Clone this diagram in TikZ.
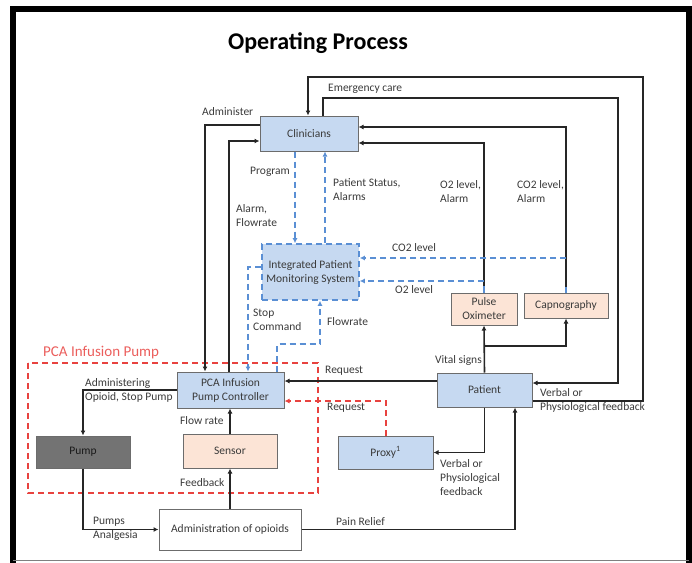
\documentclass[tikz,border=0pt]{standalone}
\usepackage{fontspec}
\setmainfont{Carlito}
\usepackage{tikz}
\usetikzlibrary{arrows.meta}
\definecolor{cblue}{HTML}{C6D9F1}
\definecolor{cpeach}{HTML}{FCE4D6}
\definecolor{cpump}{HTML}{737373}
\definecolor{dblue}{HTML}{5A8FD4}
\definecolor{dred}{HTML}{E8423F}
\definecolor{ink}{HTML}{262626}
\definecolor{txt}{HTML}{3A3A3A}
\newcommand{\lblfont}{\fontsize{11.5}{14}\selectfont}
\tikzstyle{block} = [rectangle, draw=gray!85!black, line width=1pt, align=center, inner sep=0pt, text=txt]
\tikzstyle{lbl} = [align=left, inner sep=0pt, text=txt]
\tikzstyle{arrow} = [draw=ink, line width=1.6pt, -{Latex[length=5pt,width=5pt]}]
\tikzstyle{bluearrow} = [draw=dblue, line width=1.6pt, dash pattern=on 6pt off 4pt, -{Latex[length=5pt,width=5pt]}]
\tikzstyle{redarrow} = [draw=dred, line width=1.6pt, dash pattern=on 6pt off 4pt, -{Latex[length=5pt,width=5pt]}]
\begin{document}
\begin{tikzpicture}[x=1pt, y=-1pt, every node/.style={font=\lblfont}]
\useasboundingbox (0,0) rectangle (692,562);
%% frame
\draw[line width=6pt] (13,563) -- (13,8.5) -- (689,8.5) -- (689,563);
\draw[gray, line width=1pt] (13,560.5) -- (689,560.5);
\node[font=\fontsize{24}{28}\bfseries\selectfont] at (318,43) (title) {Operating Process};

%% pca infusion pump
\draw[dred, line width=1.6pt, dash pattern=on 6pt off 4pt] (28,363) rectangle (318,493);
\node[lbl, anchor=west, text=dred!85!white, font=\fontsize{15}{18}\selectfont] at (43,353) (pcalabel) {PCA Infusion Pump};

%% boxes
\node[block, fill=cblue, minimum width=98, minimum height=35] at (309,133.5) (clinicians) {Clinicians};
\node[block, fill=cblue, draw=dblue, line width=1.6pt, dash pattern=on 6pt off 4pt, minimum width=97, minimum height=56] at (310.5,272) (ipms) {Integrated Patient\\Monitoring System};
\node[block, fill=cpeach, minimum width=66, minimum height=32] at (484,309) (pulse) {Pulse\\Oximeter};
\node[block, fill=cpeach, minimum width=84, minimum height=25] at (566,305.5) (capno) {Capnography};
\node[block, fill=cblue, minimum width=95, minimum height=34] at (484.5,390) (patient) {Patient};
\node[block, fill=cblue, minimum width=107, minimum height=36] at (230.5,390) (controller) {PCA Infusion\\Pump Controller};
\node[block, fill=cblue, minimum width=95, minimum height=33] at (385.5,452.5) (proxy) {Proxy\textsuperscript{1}};
\node[block, fill=cpump, text=black!90, minimum width=94, minimum height=32] at (83,452) (pump) {Pump};
\node[block, fill=cpeach, minimum width=94, minimum height=34] at (230,451) (sensor) {Sensor};
\node[block, fill=white, minimum width=142, minimum height=41] at (230,529.5) (admin) {Administration of opioids};

%% clinicians loops
\path [arrow] (clinicians.west |- 0,125) -| (controller.north -| 205,0);
\node[lbl, anchor=west] at (202,112) (administer) {Administer};
\path [arrow] (controller.north -| 229,0) |- (clinicians.west |- 0,141);
\node[lbl, anchor=west] at (236,215.5) (alarmflow) {Alarm,\\Flowrate};
\path [arrow] (clinicians.north -| 323,0) |- (618,98) |- (patient.east |- 0,383);
\node[lbl, anchor=west] at (328,89) (emergency) {Emergency care};
\path [arrow] (patient.east |- 0,401) -| (643,77) -| (clinicians.north -| 308,0);
\node[lbl, anchor=west] at (540,400) (verbal) {Verbal or\\Physiological feedback};
\path [arrow] (capno.north) |- (clinicians.east |- 0,127);
\node[lbl, anchor=west] at (517,191.5) (co2alarm) {CO2 level,\\Alarm};
\path [arrow] (pulse.north) |- (clinicians.east |- 0,143);
\node[lbl, anchor=west] at (440,191.5) (o2alarm) {O2 level,\\Alarm};
\draw[dblue, line width=1.2pt] (capno.north) -- ++(0,-6) (pulse.north) -- ++(0,-7);

%% monitoring system
\path [bluearrow] (clinicians.south -| 295,0) -- (ipms.north -| 295,0);
\node[lbl, anchor=west] at (250,172) (program) {Program};
\path [bluearrow] (ipms.north -| 325,0) -- (clinicians.south -| 325,0);
\node[lbl, anchor=west] at (333,190) (status) {Patient Status,\\Alarms};
\path [bluearrow] (capno.north |- 0,258) -- (ipms.east |- 0,258);
\node[lbl, anchor=west] at (392,248) (co2) {CO2 level};
\path [bluearrow] (pulse.north |- 0,281) -- (ipms.east |- 0,281);
\node[lbl, anchor=west] at (395,290) (o2) {O2 level};
\path [bluearrow] (ipms.west |- 0,267) -| (controller.north -| 248,0);
\node[lbl, anchor=west] at (253,320) (stop) {Stop\\Command};
\path [bluearrow] (controller.north -| 277,0) |- (320,344) -- (ipms.south -| 320,0);
\node[lbl, anchor=west] at (327,322) (flowrate) {Flowrate};

%% patient
\path [arrow] (patient.north) -- (pulse.south);
\path [arrow] (patient.north |- 0,346) -| (capno.south);
\node[lbl, anchor=east] at (482,360) (vital) {Vital signs};
\path [arrow] (patient.west |- 0,381) -- (controller.east |- 0,381);
\node[lbl, anchor=west] at (325,371) (request) {Request};
\path [redarrow] (proxy.north -| 386,0) |- (controller.east |- 0,401);
\node[lbl, anchor=west] at (327,408) (proxyrequest) {Request};
\path [arrow] (patient.south) |- (proxy.east);
\node[lbl, anchor=west] at (440,478) (proxyverbal) {Verbal or\\Physiological\\feedback};

%% pump loop
\path [arrow] (controller.west) -| (pump.north);
\node[lbl, anchor=west] at (85,390.5) (administering) {Administering\\Opioid, Stop Pump};
\path [arrow] (sensor.north) -- (sensor.north |- controller.south);
\node[lbl, anchor=west] at (180,421) (flow) {Flow rate};
\path [arrow] (admin.north) -- (sensor.south);
\node[lbl, anchor=west] at (180,483) (feedback) {Feedback};
\path [arrow] (pump.south) |- (admin.west);
\node[lbl, anchor=west] at (93,528.5) (analgesia) {Pumps\\Analgesia};
\path [arrow] (admin.east) -| (patient.south -| 515,0);
\node[lbl, anchor=west] at (336,522) (relief) {Pain Relief};
\end{tikzpicture}
\end{document}
